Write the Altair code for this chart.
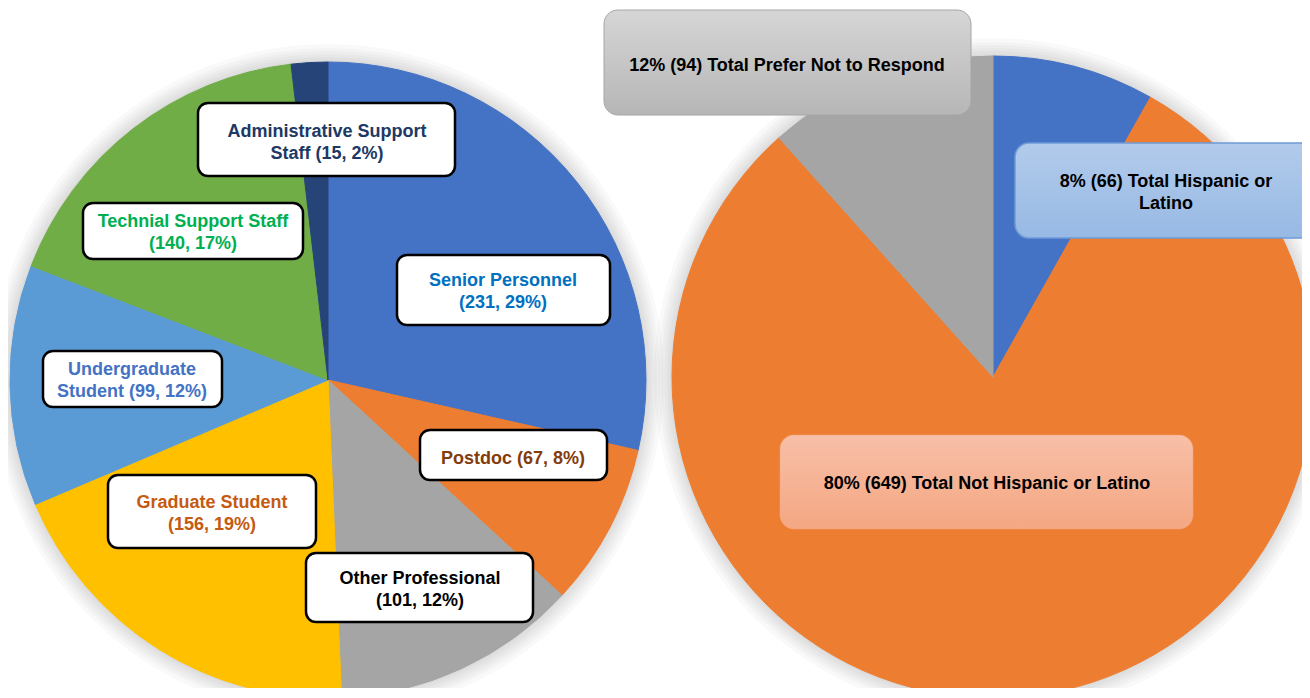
import altair as alt
import pandas as pd

# ---------------- data ----------------
roles = ["Senior Personnel", "Postdoc", "Other Professional", "Graduate Student",
         "Undergraduate Student", "Technial Support Staff", "Administrative Support Staff"]
role_counts = [231, 67, 101, 156, 99, 140, 15]
role_colors = ["#4472C4", "#ED7D31", "#A5A5A5", "#FFC000", "#5B9BD5", "#70AD47", "#264478"]

eth_groups = ["Total Hispanic or Latino", "Total Not Hispanic or Latino", "Total Prefer Not to Respond"]
eth_counts = [66, 649, 94]
eth_colors = ["#4472C4", "#ED7D31", "#A5A5A5"]

role_label_text = [
    "Senior Personnel\n(231, 29%)",
    "Postdoc (67, 8%)",
    "Other Professional\n(101, 12%)",
    "Graduate Student\n(156, 19%)",
    "Undergraduate\nStudent (99, 12%)",
    "Technial Support Staff\n(140, 17%)",
    "Administrative Support\nStaff (15, 2%)",
]
role_label_color = ["#0070C0", "#843C0C", "#000000", "#C55A11", "#4472C4", "#00B050", "#203864"]

eth_label_text = [
    "8% (66) Total Hispanic or\nLatino",
    "80% (649) Total Not Hispanic or Latino",
    "12% (94) Total Prefer Not to Respond",
]

# ---------------- layout (page pixels) ----------------
OFF = 8
W, H = 1294, 680
L_CX, L_CY, L_R = 328, 380, 318
R_CX, R_CY, R_R = 993, 377, 321
LINE_H = 22
TEXT_DY = 2

# label boxes: x0, x1, y0, y1, text x, text y (centre of text block)
role_boxes = [
    (397, 610, 255, 325, 503, 290),
    (420, 607, 430, 480, 513, 457),
    (306, 533, 553, 622, 420, 588),
    (108, 316, 475, 548, 212, 512),
    (43, 222, 351, 407, 132, 379),
    (83, 303, 203, 259, 193, 231),
    (198, 455, 103, 176, 327, 141),
]
eth_boxes = [
    (1015, 1325, 143, 238, 1166, 191),
    (780, 1193, 435, 529, 987, 482),
    (604, 971, 10, 115, 787, 64),
]
eth_box_style = [
    dict(top="#B2CBEB", bottom="#97B9E4", stroke="#6F9BD8", sw=1.5),
    dict(top="#F8BFA8", bottom="#F4A782", stroke="#F4A782", sw=0.5),
    dict(top="#D6D6D6", bottom="#B6B6B6", stroke="#A6A6A6", sw=1.0),
]

FONT = "Liberation Sans"


def shadow(cx, cy, r):
    layers = []
    for k in [2, 5, 8, 11, 14, 18]:
        layers.append(
            alt.Chart(pd.DataFrame({"a": [1]})).mark_arc(
                theta=0, theta2=6.2832, outerRadius=r + k, color="#000000", opacity=0.025
            ).encode(x=alt.value(cx - OFF), y=alt.value(cy - OFF))
        )
    return layers


def pie(cat, counts, colors, cx, cy, r):
    df = pd.DataFrame({"cat": cat, "count": counts, "order": list(range(len(cat)))})
    return alt.Chart(df).mark_arc(outerRadius=r).encode(
        theta=alt.Theta("count:Q", stack=True),
        color=alt.Color("cat:N", scale=alt.Scale(domain=cat, range=colors), legend=None),
        stroke=alt.Stroke("cat:N", scale=alt.Scale(domain=cat, range=colors), legend=None),
        order=alt.Order("order:Q"),
        x=alt.value(cx - OFF),
        y=alt.value(cy - OFF),
    )


def box(b, **mk):
    x0, x1, y0, y1, _, _ = b
    df = pd.DataFrame({"x0": [x0 - OFF], "x1": [x1 - OFF], "y0": [y0 - OFF], "y1": [y1 - OFF]})
    return alt.Chart(df).mark_rect(**mk).encode(
        x=alt.X("x0:Q", scale=None, axis=None), x2="x1:Q",
        y=alt.Y("y0:Q", scale=None, axis=None), y2="y1:Q",
    )


def label(b, text, color):
    _, _, _, _, tx, ty = b
    n = text.count("\n") + 1
    first_y = ty - (n - 1) * LINE_H / 2 + TEXT_DY
    df = pd.DataFrame({"tx": [tx - OFF], "ty": [first_y - OFF], "t": [text]})
    return alt.Chart(df).mark_text(
        font=FONT, fontWeight="bold", fontSize=18, lineBreak="\n", lineHeight=LINE_H,
        align="center", baseline="middle", color=color
    ).encode(
        x=alt.X("tx:Q", scale=None, axis=None),
        y=alt.Y("ty:Q", scale=None, axis=None),
        text="t:N",
    )


layers = []
layers += shadow(L_CX, L_CY, L_R)
layers += shadow(R_CX, R_CY, R_R)
layers.append(pie(roles, role_counts, role_colors, L_CX, L_CY, L_R))
layers.append(pie(eth_groups, eth_counts, eth_colors, R_CX, R_CY, R_R))

for b, t, c in zip(role_boxes, role_label_text, role_label_color):
    layers.append(box(b, fill="#FFFFFF", stroke="#000000", strokeWidth=2.5, cornerRadius=10))
    layers.append(label(b, t, c))

for b, t, s in zip(eth_boxes, eth_label_text, eth_box_style):
    grad = alt.Gradient(
        gradient="linear", x1=0, y1=0, x2=0, y2=1,
        stops=[alt.GradientStop(color=s["top"], offset=0), alt.GradientStop(color=s["bottom"], offset=1)],
    )
    layers.append(box(b, fill=grad, stroke=s["stroke"], strokeWidth=s["sw"], cornerRadius=14))
    layers.append(label(b, t, "#000000"))

chart = alt.layer(*layers).resolve_scale(
    color="independent", stroke="independent", theta="independent"
).properties(
    width=W, height=H, autosize=alt.AutoSizeParams(type="none"), padding=0,
    background="#FFFFFF",
).configure_view(strokeWidth=0, stroke="transparent")

chart.save("out.html", embed_options={"renderer": "svg", "actions": False})
